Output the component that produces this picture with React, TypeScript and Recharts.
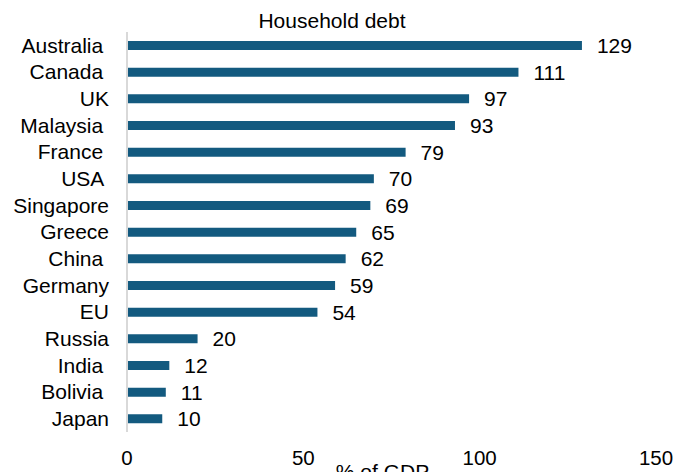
import React from 'react';
import { BarChart, Bar, XAxis, YAxis, LabelList } from 'recharts';

const categories = ['Australia ', 'Canada ', 'UK', 'Malaysia ', 'France ', 'USA ', 'Singapore', 'Greece', 'China ', 'Germany', 'EU', 'Russia', 'India ', 'Bolivia ', 'Japan'];
const values = [129, 111, 97, 93, 79, 70, 69, 65, 62, 59, 54, 20, 12, 11, 10];
const xTicks = [0, 50, 100, 150];
const title = 'Household debt';
const xLabel = '% of GDP';

const data = categories.map((name, i) => ({ name, value: values[i] }));

const font = 'Arial, "Liberation Sans", sans-serif';

export default function App() {
  return (
    <div style={{ position: 'absolute', left: 0, top: 0, width: 673, height: 472, fontFamily: font }}>
      <div style={{ position: 'absolute', left: 0, width: 664, top: 8.5, textAlign: 'center', fontSize: 21, color: '#000', lineHeight: '24px' }}>
        {title}
      </div>
      <BarChart
        width={673}
        height={472}
        data={data}
        layout="vertical"
        margin={{ top: 32, right: 17, bottom: 0, left: 0 }}
        barCategoryGap={0}
      >
        <XAxis
          type="number"
          domain={[0, 150]}
          ticks={xTicks}
          axisLine={false}
          tickLine={false}
          tickMargin={12}
          height={40}
          tick={{ fill: '#000', fontSize: 20.5, fontFamily: font }}
          label={{ value: xLabel, position: 'insideBottom', offset: -7, dx: -9, fill: '#000', fontSize: 21, fontFamily: font }}
        />
        <YAxis
          type="category"
          dataKey="name"
          width={127}
          axisLine={{ stroke: '#d9d9d9', strokeWidth: 2 }}
          tickLine={false}
          tickMargin={12}
          interval={0}
          tick={{ fill: '#000', fontSize: 21, fontFamily: font, style: { whiteSpace: 'pre' } }}
        />
        <Bar dataKey="value" fill="#135a7f" barSize={9} isAnimationActive={false}>
          <LabelList dataKey="value" position="right" offset={15} fill="#000" fontSize={21} fontFamily={font} />
        </Bar>
      </BarChart>
    </div>
  );
}
